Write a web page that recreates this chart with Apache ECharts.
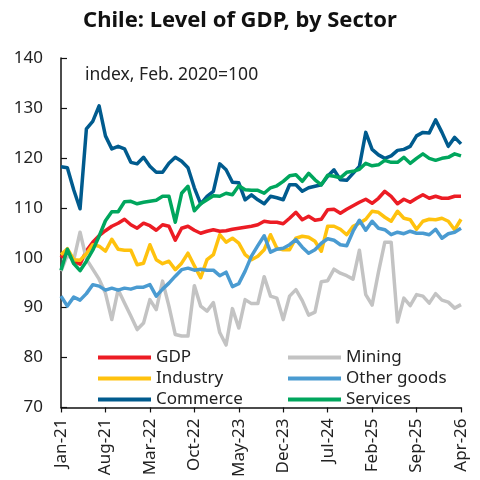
<!DOCTYPE html>
<html>
<head>
<meta charset="utf-8">
<script src="https://cdn.jsdelivr.net/npm/echarts@6/dist/echarts.min.js"></script>
<style>
html,body{margin:0;padding:0;background:#fff;}
#chart{width:480px;height:480px;}
</style>
</head>
<body>
<div id="chart"></div>
<script>
const categories = [
  'Jan-21','Feb-21','Mar-21','Apr-21','May-21','Jun-21','Jul-21','Aug-21','Sep-21','Oct-21','Nov-21','Dec-21',
  'Jan-22','Feb-22','Mar-22','Apr-22','May-22','Jun-22','Jul-22','Aug-22','Sep-22','Oct-22','Nov-22','Dec-22',
  'Jan-23','Feb-23','Mar-23','Apr-23','May-23','Jun-23','Jul-23','Aug-23','Sep-23','Oct-23','Nov-23','Dec-23',
  'Jan-24','Feb-24','Mar-24','Apr-24','May-24','Jun-24','Jul-24','Aug-24','Sep-24','Oct-24','Nov-24','Dec-24',
  'Jan-25','Feb-25','Mar-25','Apr-25','May-25','Jun-25','Jul-25','Aug-25','Sep-25','Oct-25','Nov-25','Dec-25',
  'Jan-26','Feb-26','Mar-26','Apr-26'
];

const gdp = [100.0,101.6,99.3,98.7,101.4,103.1,104.4,105.4,106.3,106.9,107.7,106.6,
  105.9,106.9,106.4,105.5,106.6,106.3,103.5,105.9,106.3,105.5,104.9,105.3,
  105.6,105.3,105.4,105.7,105.9,106.1,106.3,106.6,107.3,107.1,107.1,106.8,
  107.9,109.1,107.6,108.3,107.5,107.7,109.6,109.7,108.9,109.7,110.4,111.1,
  111.7,110.9,111.9,113.3,112.3,110.8,111.7,111.1,111.9,112.6,111.9,112.3,
  111.9,111.9,112.3,112.3];

const mining = [97.3,100.5,99.5,105.1,99.7,97.7,95.7,92.9,87.6,93.6,90.9,88.3,
  85.6,86.9,91.6,89.6,95.3,90.3,84.6,84.3,84.3,94.4,90.3,89.3,
  91.0,85.0,82.5,89.8,85.9,91.6,90.8,90.8,96.2,92.3,91.9,87.6,
  92.3,93.6,91.4,88.5,89.1,95.2,95.4,97.7,96.9,96.4,95.7,101.5,
  92.6,90.5,97.1,103.1,103.1,87.1,91.9,90.4,92.6,92.3,90.9,92.8,
  91.5,91.1,89.9,90.6];

const industry = [100.6,101.8,99.6,99.5,100.8,102.6,102.3,101.3,103.7,101.7,101.5,101.5,
  98.6,98.9,102.6,99.6,98.8,99.3,97.6,98.9,100.9,98.4,96.0,99.6,
  100.6,104.6,103.1,103.9,102.9,100.6,99.6,100.3,101.6,104.6,101.9,101.6,
  101.6,103.9,104.3,104.1,103.3,101.3,106.3,106.3,105.7,104.6,106.3,106.9,
  107.7,109.3,109.1,108.1,107.3,109.3,107.9,107.6,105.7,107.3,107.7,107.6,
  107.9,107.3,105.6,107.7];

const otherGoods = [92.3,90.3,92.1,91.5,92.8,94.6,94.3,93.5,93.9,93.5,93.9,93.7,
  94.1,94.1,94.6,92.3,93.7,94.9,96.3,97.6,97.9,97.5,97.7,97.5,
  97.5,96.4,97.1,94.2,94.8,97.3,100.3,102.4,104.4,101.1,101.7,101.9,
  102.6,103.6,102.1,100.9,101.6,102.9,103.8,103.5,102.6,102.4,105.3,107.5,
  105.5,107.3,105.9,105.6,104.6,105.1,104.8,105.3,104.9,104.9,104.6,105.7,
  103.9,104.8,105.1,105.9];

const commerce = [118.2,118.0,113.6,109.8,125.8,127.3,130.4,124.4,121.8,122.3,121.8,119.1,
  118.8,120.1,118.3,117.1,117.1,118.9,120.1,119.3,118.0,114.0,110.8,112.3,
  113.3,118.8,117.6,115.1,115.0,111.6,112.6,111.6,110.8,112.3,112.0,111.6,
  114.6,114.6,113.3,114.0,114.3,114.6,116.3,117.6,115.6,115.5,116.9,118.3,
  125.1,121.7,120.6,119.9,120.4,121.5,121.7,122.3,124.4,125.1,125.0,127.6,
  125.1,122.3,124.1,122.8];

const services = [97.5,101.7,98.8,97.4,99.3,101.5,104.3,107.4,109.2,109.2,111.2,111.3,
  110.8,111.1,111.3,111.5,112.3,112.3,107.1,112.9,114.3,109.4,110.8,111.6,
  112.4,112.3,112.9,112.6,114.4,113.6,113.5,113.5,112.9,114.0,114.4,115.3,
  116.4,116.6,115.3,116.9,115.6,114.6,116.5,116.3,116.0,117.1,117.3,117.7,
  118.9,118.4,118.6,119.5,119.1,119.1,120.1,118.9,119.9,120.8,119.9,119.5,
  119.9,120.1,120.8,120.4];

const seriesNames = ['GDP','Mining','Industry','Other goods','Commerce','Services'];
const seriesColors = ['#EC1C24','#C3C3C3','#FFC20E','#4A9BD1','#005B8E','#00A65D'];
const seriesData = [gdp, mining, industry, otherGoods, commerce, services];

const FONT = '"Noto Sans", "Open Sans", sans-serif';
const chart = echarts.init(document.getElementById('chart'), null, {renderer:'canvas'});
const legendCommon = {
  orient: 'vertical',
  top: 342,
  icon: 'rect',
  itemWidth: 53,
  itemHeight: 4,
  itemGap: 0,
  textStyle: {fontFamily: FONT, fontSize: 17, color: '#222', lineHeight: 21}
};
chart.setOption({
  animation: false,
  textStyle: {fontFamily: FONT},
  title: [
    {text: 'Chile: Level of GDP, by Sector', left: 'center', top: 5,
     textStyle: {fontFamily: FONT, fontSize: 22, fontWeight: 'bold', color: '#111'}},
    {text: 'index, Feb. 2020=100', left: 80, top: 61,
     textStyle: {fontFamily: FONT, fontSize: 17.5, fontWeight: 'normal', color: '#222'}}
  ],
  legend: [
    Object.assign({}, legendCommon, {left: 93, data: ['GDP','Industry','Commerce']}),
    Object.assign({}, legendCommon, {left: 283, data: ['Mining','Other goods','Services']})
  ],
  grid: {left: 61, right: 19, top: 58, bottom: 72, containLabel: false},
  xAxis: {
    type: 'category',
    data: categories,
    boundaryGap: false,
    axisLine: {lineStyle: {color: '#111', width: 1.5}},
    axisTick: {interval: 6, length: 5, lineStyle: {color: '#111', width: 1.2}},
    axisLabel: {interval: 6, rotate: 90, fontFamily: FONT, fontSize: 17, color: '#222', margin: 11},
    splitLine: {show: false}
  },
  yAxis: {
    type: 'value',
    min: 70, max: 140, interval: 10,
    axisLine: {show: true, lineStyle: {color: '#111', width: 1.5}},
    axisTick: {show: true, inside: true, length: 6, lineStyle: {color: '#111', width: 1.2}},
    axisLabel: {fontFamily: FONT, fontSize: 17, color: '#222', margin: 18},
    splitLine: {show: false}
  },
  series: seriesNames.map((n, i) => ({
    name: n,
    type: 'line',
    data: seriesData[i],
    symbol: 'none',
    lineStyle: {width: 3.5, color: seriesColors[i], join: 'round'},
    itemStyle: {color: seriesColors[i]}
  }))
});
</script>
</body>
</html>
